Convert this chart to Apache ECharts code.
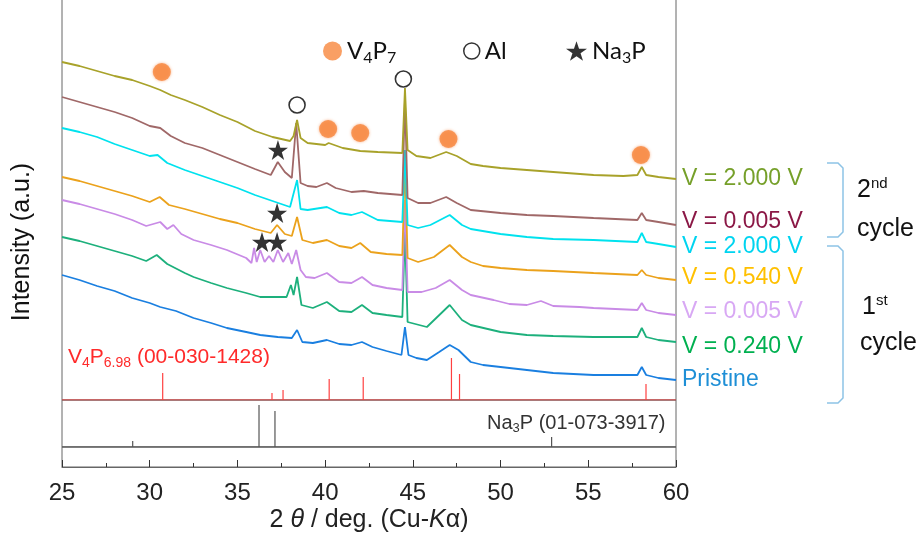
<!DOCTYPE html>
<html>
<head>
<meta charset="utf-8">
<script src="https://cdn.jsdelivr.net/npm/echarts@6.0.0/dist/echarts.min.js"></script>
<style>
html, body { margin: 0; padding: 0; background: #fff; }
#main { width: 921px; height: 535px; }
</style>
</head>
<body>
<div id="main"></div>
<script>
// XRD patterns, [2theta, intensity a.u.] (offset stacked)
var pristine = [[25,125],[26,120],[27,114],[28,109],[29,102],[30,97],[30.6,93],[31.5,89],[32.5,82],[33.5,77],[34.4,72],[35.5,68],[36.3,65],[37.3,63],[38.1,62],[38.4,70],[38.7,58],[39.3,57],[40.1,60],[40.8,56],[41.5,55],[42.1,58],[42.7,53],[43.5,49],[44.35,45],[44.55,73],[44.75,45],[45.2,42],[45.8,40],[46.5,48],[47.1,55],[47.6,50],[48.3,38],[49,35],[50,33],[51.5,30],[53,27],[55.3,25],[57.8,25],[58.05,33],[58.3,25],[59,22],[60,20]];
var v0240 = [[25,163],[26,159],[27,154],[28,149],[29,144],[29.8,139],[30.4,145],[31,136],[32,127],[32.5,123],[33.5,117],[34.4,112],[35.5,107],[36.3,103],[37.2,103],[37.8,103],[38.05,115],[38.2,105],[38.4,123],[38.65,95],[39.3,92],[40.1,98],[40.8,89],[41.5,88],[42.1,95],[42.7,87],[43.5,85],[44.4,83],[44.55,170],[44.7,78],[45.8,73],[47.1,95],[47.8,80],[48.3,75],[50,68],[51.5,65],[53,64],[55.3,63],[57.8,63],[58.05,72],[58.3,63],[59,60],[60,58]];
var v0005a = [[25,200],[26,196],[27,191],[28,186],[29,180],[29.8,174],[30.6,178],[31,171],[31.35,175],[31.8,166],[32.5,160],[33.5,155],[34.4,150],[35.5,142],[35.8,137],[35.95,152],[36.1,138],[36.3,150],[36.55,138],[36.8,144],[37.05,138],[37.3,150],[37.6,138],[37.9,147],[38.1,136],[38.35,150],[38.6,130],[38.9,123],[39.4,122],[40.1,127],[40.8,118],[41.5,117],[42.1,123],[42.7,115],[43.5,112],[44.4,110],[44.55,200],[44.7,108],[45.5,108],[46.3,112],[47.1,120],[47.8,110],[48.3,105],[49.6,100],[50.5,96],[51.5,95],[52.3,99],[53,94],[54.5,93],[55.3,92],[57.8,90],[58.05,97],[58.3,90],[59,87],[60,85]];
var v0540 = [[25,223],[26,219],[27,214],[28,209],[29,204],[30,198],[30.57,203],[31.1,195],[32,191],[33,186],[34,181],[35,177],[36,171],[36.9,167],[37.26,175],[37.7,166],[38.1,164],[38.4,183],[38.7,160],[39.3,157],[40.1,160],[40.8,154],[41.5,152],[42,157],[42.6,148],[43.5,146],[44.4,145],[44.55,240],[44.7,142],[45.3,138],[46.2,143],[47.1,155],[47.8,143],[48.3,138],[49,134],[50,132],[51.5,130],[53,129],[55.3,127],[57.8,125],[58.05,130],[58.3,125],[59,122],[60,120]];
var v2000a = [[25,272],[26,268],[27,263],[28,256],[29,250],[30,244],[30.45,245],[31,237],[32,230],[33,224],[34,218],[35,212],[36,205],[37,199],[38,193],[38.4,220],[38.6,191],[39,190],[40.1,193],[40.8,187],[41.5,185],[42.1,188],[43,180],[44.4,178],[44.55,250],[44.7,175],[45.3,172],[46,175],[47.1,185],[47.8,175],[48.3,171],[50,166],[51.5,163],[53,161],[55.3,160],[57.8,158],[58.05,167],[58.3,158],[59,156],[60,153]];
var v0005b = [[25,303],[26,298],[27,293],[28,288],[29,282],[30,274],[30.6,272],[31.2,264],[32,257],[33,252],[34,245],[35,238],[36,231],[36.9,225],[37.3,238],[37.7,228],[38.1,222],[38.35,277],[38.6,217],[39,214],[39.5,213],[40.1,217],[40.6,212],[41.5,208],[42.2,209],[43,207],[44.4,205],[44.55,300],[44.7,202],[45.3,197],[46,197],[46.9,203],[47.5,197],[48.3,190],[50,187],[51.5,185],[53,184],[55.3,182],[57.8,180],[58.05,187],[58.3,180],[59,178],[60,175]];
var v2000b = [[25,338],[26,334],[27,329],[28,324],[29,320],[30,314],[30.6,310],[31.2,305],[32,300],[33,293],[34,285],[35,278],[36,269],[37,263],[38,259],[38.2,264],[38.4,280],[38.6,262],[39,257],[40,255],[40.2,257],[41,252],[42,249],[43,248],[44.4,247],[44.55,312],[44.7,250],[45.2,244],[46,242],[46.9,248],[47.5,244],[48.3,236],[49,234],[50,232],[51.5,230],[53,228],[55.3,225],[57,224],[57.8,225],[58.05,233],[58.3,225],[59,223],[60,221]];

// reference patterns [2theta, relative height]
var v4p7Ref = [[28.2,1.5],[30.74,27],[31.5,1.5],[33.9,1.5],[36.97,7],[37.6,10],[40.23,21],[42.17,23],[47.2,42],[47.66,26],[50.1,1.5],[58.29,16]];
var na3pRef = [[29.03,6],[36.23,42],[37.14,36],[41.89,2],[52.91,10]];

// phase markers
var v4p7Marks = [[30.69,328],[40.17,271],[42.0,267],[47.03,261],[58.0,245]];
var alMarks = [[38.4,295],[44.46,321]];
var na3pMarks = [[37.31,250],[37.26,187],[36.4,158],[37.26,158]];

var xTicks = [25, 60, 5];
var curveNames = ['Pristine', 'V = 0.240 V', 'V = 0.005 V', 'V = 0.540 V', 'V = 2.000 V', 'V = 0.005 V ', 'V = 2.000 V '];
var curveColors = ['#1a7fe0', '#1db07c', '#c98be6', '#eba21c', '#00e2ee', '#a06868', '#a8a22a'];
var labelColors = ['#1e8fd6', '#00b050', '#d8a8f4', '#ffc000', '#00d4f0', '#8b1846', '#76a02a'];
var labelY = [380, 347, 312, 278, 247, 222, 179];
var curves = [pristine, v0240, v0005a, v0540, v2000a, v0005b, v2000b];

function sticks(list) {
    var pts = [[xTicks[0], 0]];
    list.forEach(function (p) {
        pts.push([p[0], 0], [p[0], p[1]], [p[0], 0]);
    });
    pts.push([xTicks[1], 0]);
    return pts;
}

var star = 'path://M50,0 L61.8,35.1 L98.9,35.1 L68.9,56.8 L80.3,91.9 L50,70.2 L19.7,91.9 L31.1,56.8 L1.1,35.1 L38.2,35.1 Z';
var sansL = 'Lato';
var sansA = 'Liberation Sans';

var series = [];
curves.forEach(function (d, i) {
    series.push({
        name: curveNames[i], type: 'line', xAxisIndex: 0, yAxisIndex: 0,
        data: d, symbol: 'none', silent: true,
        lineStyle: { color: curveColors[i], width: 1.8 }
    });
});
series.push({
    type: 'line', xAxisIndex: 0, yAxisIndex: 0, data: sticks(v4p7Ref),
    symbol: 'none', silent: true, lineStyle: { color: '#ff4040', width: 1.2 }, z: 3
});
series.push({
    type: 'line', xAxisIndex: 1, yAxisIndex: 1, data: sticks(na3pRef),
    symbol: 'none', silent: true, lineStyle: { color: '#555', width: 1.2 }
});
series.push({
    name: 'V4P7', type: 'scatter', xAxisIndex: 0, yAxisIndex: 0, data: v4p7Marks,
    symbolSize: 18, z: 5,
    itemStyle: { color: '#f7873d', shadowBlur: 3, shadowColor: '#f7a070' }
});
series.push({
    name: 'Al', type: 'scatter', xAxisIndex: 0, yAxisIndex: 0, data: alMarks,
    symbolSize: 16, z: 5,
    itemStyle: { color: '#fff', borderColor: '#000', borderWidth: 1.6 }
});
series.push({
    name: 'Na3P', type: 'scatter', xAxisIndex: 0, yAxisIndex: 0, data: na3pMarks,
    symbol: star, symbolSize: 20, z: 5, itemStyle: { color: '#000' }
});

var richL = {
    a: { fontSize: 24, fontFamily: sansL, color: '#111' },
    s: { fontSize: 16, fontFamily: sansL, color: '#111', padding: [14, 0, 0, 0] }
};

var graphic = [];
labelY.forEach(function (y, i) {
    graphic.push({
        type: 'text', x: 682, y: y,
        style: { text: curveNames[i].trim(), fill: labelColors[i], font: '23px "Liberation Sans"', textVerticalAlign: 'middle', verticalAlign: 'middle' }
    });
});
graphic.push(
    { type: 'polyline', shape: { points: [[827, 163], [838, 163], [843, 168], [843, 232], [838, 237], [827, 237]] }, style: { stroke: '#8dc3e6', lineWidth: 1.5, fill: null } },
    { type: 'polyline', shape: { points: [[827, 246], [838, 246], [843, 251], [843, 398], [838, 403], [827, 403]] }, style: { stroke: '#8dc3e6', lineWidth: 1.5, fill: null } },
    { type: 'text', x: 857, y: 190, style: { text: '{a|2}{b|nd}', verticalAlign: 'middle', textVerticalAlign: 'middle', rich: { a: { fontSize: 25, fontFamily: sansA, fill: '#111' }, b: { fontSize: 15, fontFamily: sansA, fill: '#111', padding: [0, 0, 12, 0] } } } },
    { type: 'text', x: 857, y: 229, style: { text: 'cycle', fill: '#111', font: '25px "Liberation Sans"', verticalAlign: 'middle', textVerticalAlign: 'middle' } },
    { type: 'text', x: 862, y: 307, style: { text: '{a|1}{b|st}', verticalAlign: 'middle', textVerticalAlign: 'middle', rich: { a: { fontSize: 25, fontFamily: sansA, fill: '#111' }, b: { fontSize: 15, fontFamily: sansA, fill: '#111', padding: [0, 0, 12, 0] } } } },
    { type: 'text', x: 860, y: 343, style: { text: 'cycle', fill: '#111', font: '25px "Liberation Sans"', verticalAlign: 'middle', textVerticalAlign: 'middle' } },
    { type: 'text', x: 68, y: 357, style: { text: '{a|V}{s|4}{a|P}{s|6.98}{a| (00-030-1428)}', verticalAlign: 'middle', textVerticalAlign: 'middle', rich: { a: { fontSize: 21, fontFamily: sansA, fill: '#ff2a2a' }, s: { fontSize: 14, fontFamily: sansA, fill: '#ff2a2a', padding: [12, 0, 0, 0] } } } },
    { type: 'text', x: 487, y: 423, style: { text: '{a|Na}{s|3}{a|P (01-073-3917)}', verticalAlign: 'middle', textVerticalAlign: 'middle', rich: { a: { fontSize: 20, fontFamily: sansA, fill: '#333' }, s: { fontSize: 13, fontFamily: sansA, fill: '#333', padding: [11, 0, 0, 0] } } } },
    { type: 'text', x: 22, y: 242, rotation: Math.PI / 2, style: { text: 'Intensity (a.u.)', fill: '#111', font: '25px "Liberation Sans"', align: 'center', textAlign: 'center', verticalAlign: 'middle', textVerticalAlign: 'middle' } }
);

var gridBase = { left: 62, right: 245, show: true, borderColor: '#666', borderWidth: 1, containLabel: false, outerBoundsMode: 'none' };

var option = {
    animation: false,
    backgroundColor: '#fff',
    grid: [
        Object.assign({ top: -1, height: 401 }, gridBase),
        Object.assign({ top: 400, height: 47 }, gridBase),
        Object.assign({ top: 447, height: 20 }, gridBase)
    ],
    xAxis: [
        { gridIndex: 0, type: 'value', min: xTicks[0], max: xTicks[1], show: false },
        { gridIndex: 1, type: 'value', min: xTicks[0], max: xTicks[1], show: false },
        {
            gridIndex: 2, type: 'value', min: xTicks[0], max: xTicks[1], interval: xTicks[2],
            axisLine: { show: true, lineStyle: { color: '#666' } },
            axisTick: { inside: true, length: 7, lineStyle: { color: '#333' } },
            minorTick: { show: true, splitNumber: 2, length: 4, lineStyle: { color: '#333' } },
            splitLine: { show: false },
            axisLabel: { fontSize: 24, color: '#222', margin: 14, fontFamily: sansA },
            name: '{n|2 }{i|θ}{n| / deg. (Cu-}{i|K}{n|α)}',
            nameLocation: 'middle', nameGap: 41,
            nameTextStyle: {
                rich: {
                    n: { fontSize: 25, fontFamily: sansA, color: '#222' },
                    i: { fontSize: 25, fontFamily: sansA, color: '#222', fontStyle: 'italic' }
                }
            }
        }
    ],
    yAxis: [
        { gridIndex: 0, type: 'value', min: 0, max: 401, show: false },
        { gridIndex: 1, type: 'value', min: 0, max: 47, show: false },
        { gridIndex: 2, type: 'value', min: 0, max: 1, show: false }
    ],
    legend: [
        {
            data: ['V4P7'], left: 318, top: 34, itemWidth: 19, itemHeight: 19, selectedMode: false,
            formatter: function () { return '{a|V}{s|4}{a|P}{s|7}'; },
            textStyle: { rich: richL }
        },
        {
            data: ['Al'], left: 458, top: 34, itemWidth: 16, itemHeight: 16, selectedMode: false,
            itemStyle: { color: '#fff', borderColor: '#000', borderWidth: 1.5 },
            textStyle: { fontSize: 24, fontFamily: sansL, color: '#111' }
        },
        {
            data: ['Na3P'], left: 561, top: 34, itemWidth: 21, itemHeight: 21, selectedMode: false,
            formatter: function () { return '{a|Na}{s|3}{a|P}'; },
            textStyle: { rich: richL }
        }
    ],
    graphic: graphic,
    series: series
};

echarts.init(document.getElementById('main')).setOption(option);
</script>
</body>
</html>
